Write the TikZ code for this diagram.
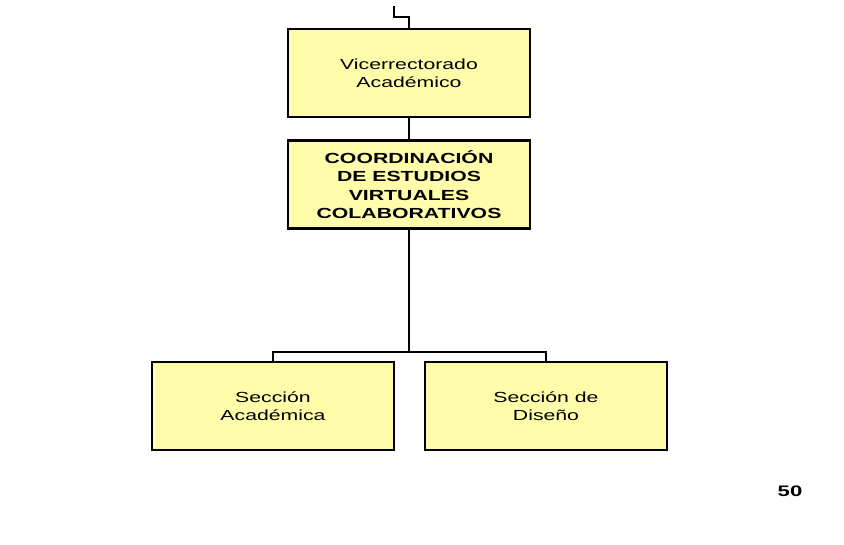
\documentclass[tikz,border=0pt]{standalone}
\usepackage{fontspec}
\setmainfont{Liberation Sans}[FakeStretch=1.45]
\definecolor{boxyellow}{RGB}{255,253,170}
\tikzset{
  unit/.style={draw, line width=2.5pt, fill=boxyellow, minimum width=7.26cm,
    minimum height=2.64cm, align=center, font=\fontsize{12.5}{15.6}\selectfont},
  link/.style={line width=2.5pt}
}
\begin{document}
\begin{tikzpicture}[x=0.03cm, y=0.03cm]
\useasboundingbox (0,0) rectangle (844,-545);
\node[unit] (vice) at (409,-73) {Vicerrectorado\\Académico};
\node[unit, font=\fontsize{12.5}{15.6}\selectfont\bfseries] (coord) at (409,-184.5) {COORDINACIÓN\\DE ESTUDIOS\\VIRTUALES\\COLABORATIVOS};
\node[unit] (acad) at (273,-406) {Sección\\Académica};
\node[unit] (dise) at (546,-406) {Sección de\\Diseño};
\node[font=\fontsize{13}{15}\selectfont\bfseries] (page) at (790,-491) {50};
\coordinate (top) at (394,-6);
\coordinate (bend) at (409,-17);
\coordinate (split) at (409,-352);
\draw[link] (top) |- (bend) -- (vice);
\draw[link] (vice) -- (coord);
\draw[link] (coord) -- (split);
\draw[link] (acad) |- (split) -| (dise);
\end{tikzpicture}
\end{document}
